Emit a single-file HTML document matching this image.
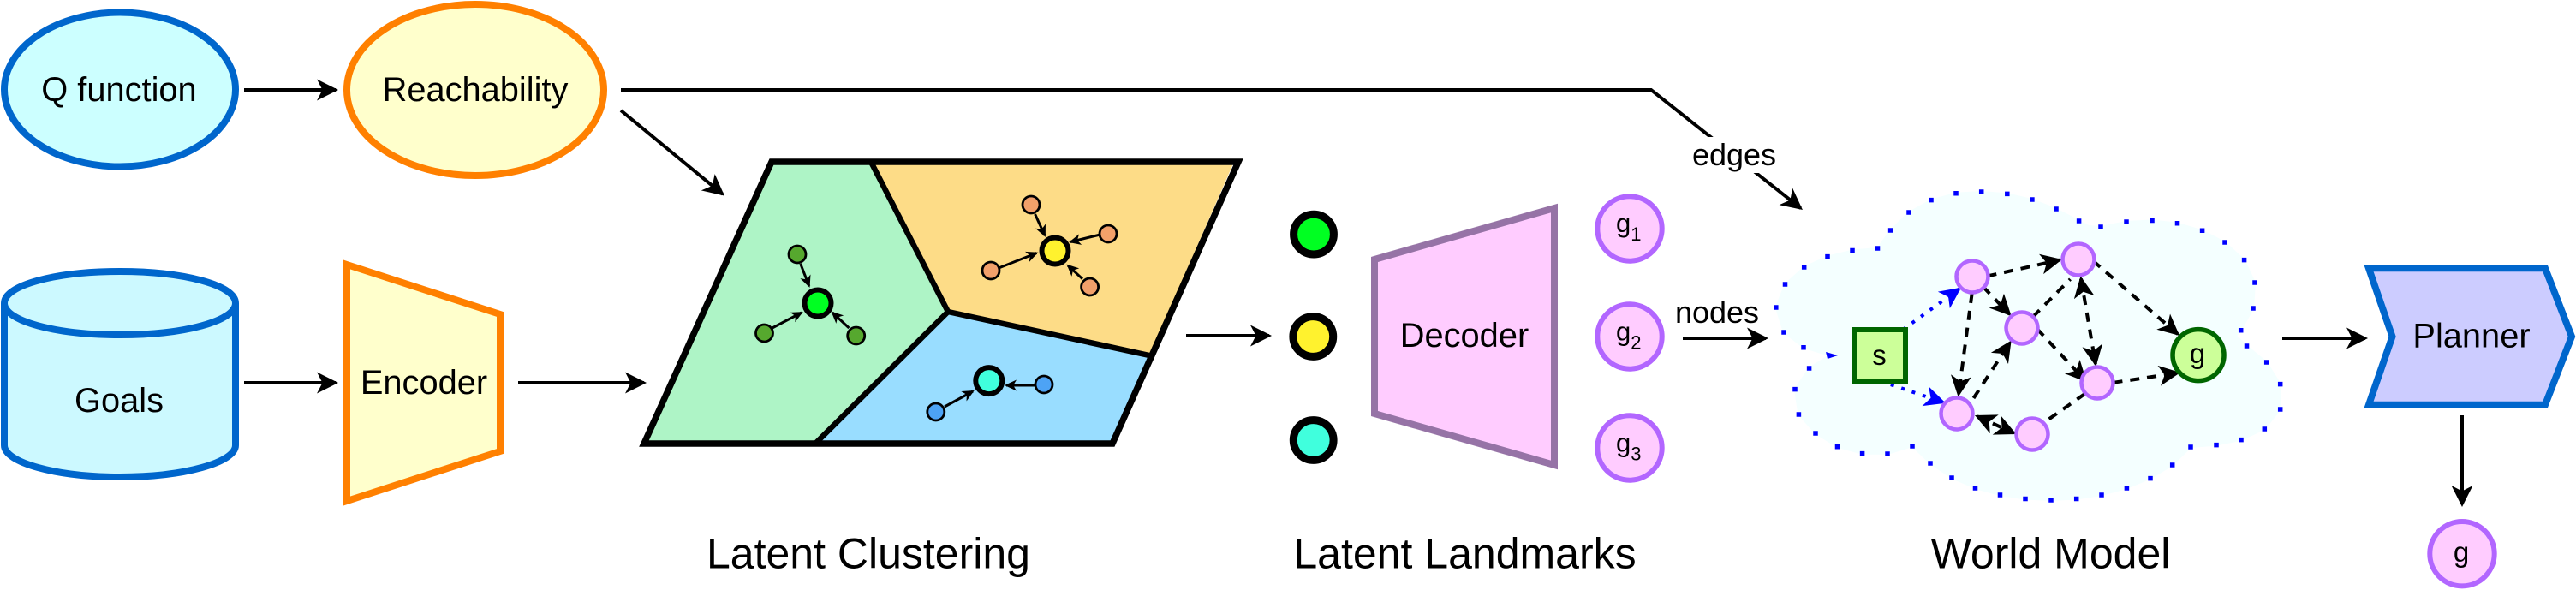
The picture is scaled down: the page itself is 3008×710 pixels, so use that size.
<!DOCTYPE html>
<html lang="en">
<head>
<meta charset="utf-8">
<title>Latent Landmarks Diagram</title>
<style>
html,body{margin:0;padding:0;background:#fff;width:3008px;height:710px;overflow:hidden}
svg{display:block}
text{font-family:"Liberation Sans",Arial,sans-serif;fill:#000}
.m{font-size:39.8px;text-anchor:middle}
.t{font-size:50px;text-anchor:middle}
.l{font-size:36px;text-anchor:middle}
.g{font-size:31px}
.gl{font-size:33px;text-anchor:middle}
.sub{font-size:22px}
.a{fill:none;stroke:#000;stroke-width:4;marker-end:url(#big)}
.sm{fill:none;stroke:#000;stroke-width:3;marker-end:url(#small)}
.d{fill:none;stroke:#000;stroke-width:4;stroke-dasharray:11 9}
.dm{marker-end:url(#med)}
.db{marker-end:url(#med);marker-start:url(#med)}
.b{fill:none;stroke:#0000ff;stroke-width:4;stroke-dasharray:4 9;marker-end:url(#blue)}
.ring{fill:#ffccff;stroke:#b266ff;stroke-width:6}
.node{fill:#ffccff;stroke:#b266ff;stroke-width:4.5}
.c{stroke:#000;stroke-width:6}
.sg{fill:#56a82e;stroke:#000;stroke-width:2.8}
.so{fill:#f2a06a;stroke:#000;stroke-width:2.8}
.sb{fill:#4da3f5;stroke:#000;stroke-width:2.8}
.lm{stroke:#000;stroke-width:9}
</style>
</head>
<body>
<svg xmlns="http://www.w3.org/2000/svg" width="3008" height="710" viewBox="0 0 3008 710">
<defs>
<marker id="big" markerUnits="userSpaceOnUse" markerWidth="30" markerHeight="30" refX="22" refY="13" orient="auto"><path d="M25 13L0 .5 6.5 13 0 25.5Z" fill="#000"/></marker>
<marker id="med" markerUnits="userSpaceOnUse" markerWidth="30" markerHeight="28" refX="22" refY="12" orient="auto-start-reverse"><path d="M25 12L0 0 6.5 12 0 24Z" fill="#000"/></marker>
<marker id="blue" markerUnits="userSpaceOnUse" markerWidth="30" markerHeight="28" refX="22" refY="12" orient="auto"><path d="M25 12L0 0 6.5 12 0 24Z" fill="#0000ff"/></marker>
<marker id="small" markerUnits="userSpaceOnUse" markerWidth="18" markerHeight="16" refX="12" refY="6.5" orient="auto"><path d="M14 6.5L0 0 3.8 6.5 0 13Z" fill="#000"/></marker>
</defs>

<!-- Inputs -->
<ellipse cx="140" cy="104.5" rx="135" ry="90" fill="#ccffff" stroke="#0066cc" stroke-width="8"/>
<text class="m" x="139" y="118">Q function</text>
<ellipse cx="555" cy="105" rx="150" ry="100" fill="#ffffcc" stroke="#ff8000" stroke-width="8"/>
<text class="m" x="555" y="118">Reachability</text>
<path d="M5 354V520C5 540 65 557 140 557S275 540 275 520V354C275 333 215 317 140 317S5 333 5 354Z" fill="#ccf9ff" stroke="#0066cc" stroke-width="8"/>
<path d="M5 354C5 375 65 391 140 391S275 375 275 354" fill="none" stroke="#0066cc" stroke-width="8"/>
<text class="m" x="139" y="481">Goals</text>
<polygon points="405,309 584,367 584,527 405,585" fill="#ffffcc" stroke="#ff8000" stroke-width="8"/>
<text class="m" x="495" y="460">Encoder</text>

<path class="a" d="M285 105H392"/>
<path class="a" d="M285 447H392"/>
<path class="a" d="M605 447H752"/>
<path class="a" d="M725 129L843.7 226.7"/>
<path class="a" d="M725 105H1928L2102.6 243.1"/>

<!-- Latent clustering -->
<polygon points="901,189 1017,189 1107,364 952,518 752,518" fill="#aef4c6"/>
<polygon points="1017,189 1441,189 1342,415 1107,364" fill="#fddc87"/>
<polygon points="1107,364 1342,415 1298,518 952,518" fill="#99ddff"/>
<path d="M1017 189L1107 364L952 518M1107 364L1342 415" fill="none" stroke="#000" stroke-width="6.5"/>
<polygon points="901,189 1446,189 1299,518 752,518" fill="none" stroke="#000" stroke-width="7.5"/>

<path class="sm" d="M934.7 308L944.8 334"/>
<path class="sm" d="M901.8 383L936 365"/>
<path class="sm" d="M991.4 383L972 365"/>
<path class="sm" d="M1208.6 250L1220 275"/>
<path class="sm" d="M1284.7 274L1250 282.5"/>
<path class="sm" d="M1167.4 312.5L1210.5 295.5"/>
<path class="sm" d="M1264 325.7L1247 310"/>
<path class="sm" d="M1209.6 450H1175"/>
<path class="sm" d="M1103 475L1136 457"/>

<circle class="sg" cx="931" cy="297" r="10"/>
<circle class="sg" cx="892.5" cy="389" r="10"/>
<circle class="sg" cx="999.7" cy="392" r="10"/>
<circle class="so" cx="1204" cy="239" r="10"/>
<circle class="so" cx="1294" cy="273" r="10"/>
<circle class="so" cx="1157" cy="316" r="10"/>
<circle class="so" cx="1272.6" cy="335" r="10"/>
<circle class="sb" cx="1219" cy="449" r="10"/>
<circle class="sb" cx="1092.8" cy="481" r="10"/>
<circle class="c" cx="955" cy="354" r="15.5" fill="#00ff22"/>
<circle class="c" cx="1232" cy="293" r="15.5" fill="#fff22e"/>
<circle class="c" cx="1154.8" cy="444.6" r="15.5" fill="#40ffdd"/>
<text class="t" x="1014" y="663.5">Latent Clustering</text>

<path class="a" d="M1385 392H1482"/>

<!-- Latent landmarks -->
<circle class="lm" cx="1534" cy="273.6" r="23.4" fill="#00ff22"/>
<circle class="lm" cx="1533.3" cy="393" r="23.4" fill="#fff22e"/>
<circle class="lm" cx="1533.7" cy="514" r="23.4" fill="#40ffdd"/>
<polygon points="1605,303 1815,243 1815,543 1605,483" fill="#ffccff" stroke="#9673a6" stroke-width="8"/>
<text class="m" x="1710" y="405">Decoder</text>
<circle class="ring" cx="1903" cy="267" r="37.7"/>
<circle class="ring" cx="1903" cy="393" r="37.7"/>
<circle class="ring" cx="1903" cy="523" r="37.7"/>
<text class="g" x="1887" y="271">g<tspan class="sub" dy="10">1</tspan></text>
<text class="g" x="1887" y="397.5">g<tspan class="sub" dy="10">2</tspan></text>
<text class="g" x="1887" y="527.5">g<tspan class="sub" dy="10">3</tspan></text>
<text class="t" x="1710.5" y="663.5">Latent Landmarks</text>

<!-- Labels & connectors to world model -->
<rect x="1975" y="160" width="100" height="42" fill="#fff"/>
<text class="l" x="2025" y="193">edges</text>
<text class="l" x="2005" y="377">nodes</text>
<path class="a" d="M1965 395H2062"/>

<!-- Cloud -->
<path d="M2192.5 290L2207.6 269 2229 248 2255 233.6 2284 225.7 2313.7 224 2343.8 226.4 2372.9 233 2401 244 2427.6 258 2439 264 2453 265 2483 259 2513 257.5 2542.5 260.7 2571.6 269.3 2598 283 2620.6 303.6 2633 330 2631 360 2616.7 385.7 2611 392 2623.5 404 2646.7 423 2662.7 448.6 2662.7 478 2644.3 501 2617 513.6 2588 519.6 2558 522 2536.7 543 2511 558.6 2483.4 570 2454 578 2424.7 582.5 2395 584 2365 582.5 2335.5 578 2306.5 570 2279 558 2254 541 2233 521 2204 530 2174.6 529.6 2145.5 521.8 2120 506 2100.4 484 2096 454.6 2112.6 430 2136 415 2106 405.7 2083 388 2073.8 359 2084.5 332 2106.7 312 2134 299.6 2163 292.5Z" fill="#f4ffff" stroke="#f4ffff" stroke-width="2" stroke-linejoin="round"/>
<path fill="none" stroke="#0000ff" stroke-width="5.5" stroke-linecap="square" d="M2192.5 290h.01M2207.6 269h.01M2229 248h.01M2255 233.6h.01M2284 225.7h.01M2313.7 224h.01M2343.8 226.4h.01M2372.9 233h.01M2401 244h.01M2427.6 258h.01M2453 265h.01M2483 259h.01M2513 257.5h.01M2542.5 260.7h.01M2571.6 269.3h.01M2598 283h.01M2620.6 303.6h.01M2633 330h.01M2631 360h.01M2616.7 385.7h.01M2623.5 404h.01M2646.7 423h.01M2662.7 448.6h.01M2662.7 478h.01M2644.3 501h.01M2617 513.6h.01M2588 519.6h.01M2558 522h.01M2536.7 543h.01M2511 558.6h.01M2483.4 570h.01M2454 578h.01M2424.7 582.5h.01M2395 584h.01M2365 582.5h.01M2335.5 578h.01M2306.5 570h.01M2279 558h.01M2254 541h.01M2233 521h.01M2204 530h.01M2174.6 529.6h.01M2145.5 521.8h.01M2120 506h.01M2100.4 484h.01M2096 454.6h.01M2112.6 430h.01M2106 405.7h.01M2083 388h.01M2073.8 359h.01M2084.5 332h.01M2106.7 312h.01M2134 299.6h.01M2163 292.5h.01"/>
<polygon points="2146,415 2132,411 2134,419" fill="#0000ff"/>

<!-- Graph edges -->
<path class="b" d="M2222 385L2287.6 337.5"/>
<path class="b" d="M2195.5 445L2269.2 469.8"/>
<path class="d dm" d="M2320.5 322.5L2405 303.6"/>
<path class="d dm" d="M2315.7 335L2346.6 367"/>
<path class="d dm" d="M2302.6 343L2287 460.6"/>
<path class="d dm" d="M2304.5 465L2347 400"/>
<path class="d" d="M2373.8 370L2417.5 326"/>
<path class="d db" d="M2430 325.5L2447 425"/>
<path class="d dm" d="M2444 304.6L2542.8 390"/>
<path class="d dm" d="M2378.7 384L2434.8 444.2"/>
<path class="d dm" d="M2467.5 446.8L2543 435.5"/>
<path class="d" d="M2434.4 460L2386 494"/>
<path class="d db" d="M2308.7 486.2L2351.7 505.8"/>

<!-- Graph nodes -->
<circle class="node" cx="2303" cy="323" r="18.5"/>
<circle class="node" cx="2427" cy="303" r="18.5"/>
<circle class="node" cx="2361" cy="383" r="18.5"/>
<circle class="node" cx="2449" cy="447" r="18.5"/>
<circle class="node" cx="2285" cy="483" r="18.5"/>
<circle class="node" cx="2373" cy="507" r="18.5"/>
<rect x="2165" y="385" width="60" height="60" fill="#ccff99" stroke="#006600" stroke-width="6"/>
<text class="gl" x="2194.5" y="426">s</text>
<circle cx="2567" cy="414.6" r="30" fill="#ccff99" stroke="#006600" stroke-width="5.5"/>
<text class="gl" x="2566" y="424">g</text>
<text class="t" x="2394.5" y="663.5">World Model</text>

<!-- Planner -->
<path class="a" d="M2665 395H2762"/>
<polygon points="2766,313.3 2972,313.3 3003,393 2972,472.7 2766,472.7 2793.5,393" fill="#ccccff" stroke="#0066cc" stroke-width="8"/>
<text class="m" x="2886" y="405.5">Planner</text>
<path class="a" d="M2875 485V589"/>
<circle class="ring" cx="2875" cy="646.7" r="37.7"/>
<text class="gl" x="2874" y="656">g</text>
</svg>
</body>
</html>
